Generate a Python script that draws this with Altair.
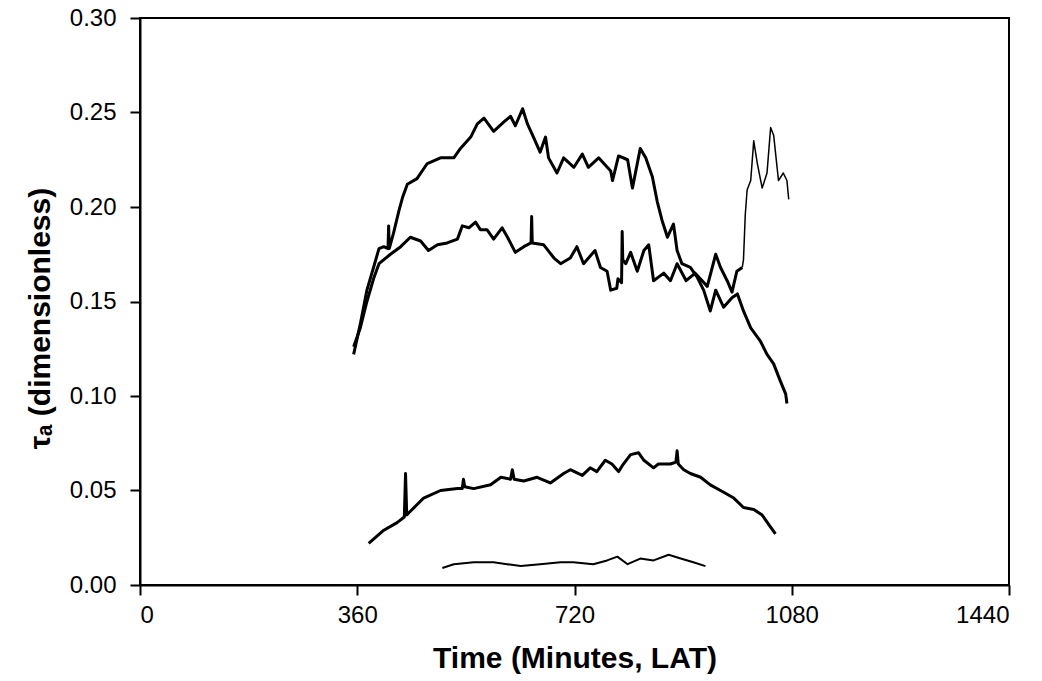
import altair as alt
import pandas as pd

# Series A: upper curve (rises to ~0.25, then falls to ~0.10)
a_t = [354, 365, 376, 387, 396, 404, 411, 412, 413, 420,
       429, 435, 443, 459, 476, 498, 520, 531, 548, 559,
       570, 586, 603, 614, 622, 634, 642, 652, 663, 672,
       677, 691, 702, 719, 733, 743, 760, 780, 783, 793,
       808, 816, 829, 838, 849, 857, 865, 874, 884, 890,
       898, 912, 923, 934, 945, 954, 967, 981, 990, 1000,
       1012, 1028, 1039, 1050, 1061, 1070, 1072]
a_v = [0.122, 0.138, 0.156, 0.168, 0.178, 0.179, 0.178, 0.190, 0.178, 0.186,
       0.198, 0.205, 0.212, 0.215, 0.223, 0.226, 0.226, 0.231, 0.237, 0.244,
       0.247, 0.240, 0.245, 0.248, 0.243, 0.252, 0.244, 0.237, 0.229, 0.237,
       0.226, 0.218, 0.226, 0.221, 0.228, 0.221, 0.226, 0.219, 0.214, 0.227,
       0.225, 0.210, 0.231, 0.226, 0.216, 0.203, 0.193, 0.184, 0.191, 0.177,
       0.170, 0.168, 0.163, 0.156, 0.145, 0.156, 0.147, 0.152, 0.154, 0.145,
       0.136, 0.129, 0.122, 0.117, 0.108, 0.101, 0.096]

# Series B: second curve (~0.18 plateau), ending with thin rise to ~0.24
b_t = [354, 365, 376, 387, 396, 415, 432, 448, 465, 478,
       493, 509, 526, 534, 545, 556, 564, 575, 586, 600,
       609, 622, 636, 648, 649, 650, 669, 686, 697, 713,
       724, 735, 754, 763, 774, 780, 790, 792, 798, 799,
       800, 805, 813, 824, 835, 843, 851, 868, 879, 890,
       905, 920, 940, 954, 962, 973, 981, 989, 998]
b_v = [0.126, 0.136, 0.150, 0.162, 0.170, 0.175, 0.179, 0.184, 0.182, 0.177,
       0.180, 0.181, 0.183, 0.190, 0.189, 0.192, 0.188, 0.188, 0.183, 0.189,
       0.184, 0.176, 0.179, 0.181, 0.195, 0.181, 0.180, 0.173, 0.170, 0.173,
       0.179, 0.170, 0.177, 0.168, 0.166, 0.156, 0.157, 0.162, 0.160, 0.187,
       0.172, 0.170, 0.176, 0.166, 0.177, 0.180, 0.161, 0.165, 0.161, 0.170,
       0.161, 0.165, 0.158, 0.175, 0.168, 0.161, 0.155, 0.166, 0.168]
b_tail_t = [998, 1000, 1003, 1006, 1012, 1017, 1023, 1031, 1039, 1045,
            1050, 1058, 1066, 1072, 1075]
b_tail_v = [0.168, 0.172, 0.196, 0.209, 0.214, 0.235, 0.223, 0.210, 0.218, 0.242,
            0.238, 0.214, 0.218, 0.214, 0.204]

# Series C: ~0.05-0.07 curve
c_t = [379, 404, 426, 438, 440, 442, 448, 470, 498, 526,
       534, 536, 538, 553, 581, 598, 614, 617, 620, 636,
       658, 680, 702, 713, 733, 746, 757, 771, 782, 793,
       801, 813, 826, 835, 851, 859, 879, 888, 890, 892,
       901, 912, 929, 945, 962, 984, 1000, 1017, 1031, 1042,
       1053]
c_v = [0.022, 0.029, 0.033, 0.036, 0.059, 0.037, 0.039, 0.046, 0.050, 0.051,
       0.051, 0.056, 0.052, 0.051, 0.053, 0.057, 0.056, 0.061, 0.056, 0.055,
       0.057, 0.054, 0.059, 0.061, 0.058, 0.062, 0.060, 0.066, 0.064, 0.060,
       0.064, 0.069, 0.070, 0.066, 0.062, 0.064, 0.064, 0.065, 0.071, 0.064,
       0.061, 0.059, 0.057, 0.053, 0.050, 0.046, 0.041, 0.040, 0.037, 0.032,
       0.027]

# Series D: small ~0.01 curve
d_t = [501, 520, 553, 586, 608, 631, 663, 697, 718, 751,
       774, 791, 808, 829, 851, 876, 896, 917, 937]
d_v = [0.009, 0.011, 0.012, 0.012, 0.011, 0.010, 0.011, 0.012, 0.012, 0.011,
       0.013, 0.015, 0.011, 0.014, 0.013, 0.016, 0.014, 0.012, 0.010]

x_ticks = [0, 360, 720, 1080, 1440]
y_ticks = [0.0, 0.05, 0.10, 0.15, 0.20, 0.25, 0.30]


def frame(name, t, v, w):
    return pd.DataFrame({"series": name, "t": t, "v": v, "w": w,
                         "i": list(range(len(t)))})


df = pd.concat([
    frame("A", a_t, a_v, 3.0),
    frame("B", b_t, b_v, 3.0),
    frame("B tail", b_tail_t, b_tail_v, 1.5),
    frame("C", c_t, c_v, 3.0),
    frame("D", d_t, d_v, 2.0),
], ignore_index=True)

x_enc = alt.X("t:Q", scale=alt.Scale(domain=[0, 1440], nice=False, zero=False),
              axis=alt.Axis(values=x_ticks, title="Time (Minutes, LAT)", format="d",
                            tickSize=10, labelPadding=8, titlePadding=16))
y_enc = alt.Y("v:Q", scale=alt.Scale(domain=[0, 0.30], nice=False),
              axis=alt.Axis(values=y_ticks, title="τₐ (dimensionless)", format=".2f",
                            tickSize=10, labelPadding=14, titlePadding=14,
                            titleY=300))

chart = alt.Chart(df).mark_line(color="black", strokeJoin="round").encode(
    x=x_enc,
    y=y_enc,
    detail="series:N",
    order="i:Q",
    strokeWidth=alt.StrokeWidth("w:Q", scale=None, legend=None),
).properties(
    width=869,
    height=567,
    padding={"left": 140, "top": 18, "right": 33, "bottom": 96},
    autosize="none",
).configure_view(
    stroke="black", strokeWidth=2
).configure_axis(
    grid=False,
    domainColor="black", domainWidth=2,
    tickColor="black", tickWidth=2,
    labelFont="Liberation Sans", labelFontSize=24, labelColor="black",
    titleFont="Liberation Sans", titleFontSize=30, titleFontWeight="bold",
    titleColor="black",
)

chart.save("out.html", embed_options={"renderer": "svg", "actions": False})
